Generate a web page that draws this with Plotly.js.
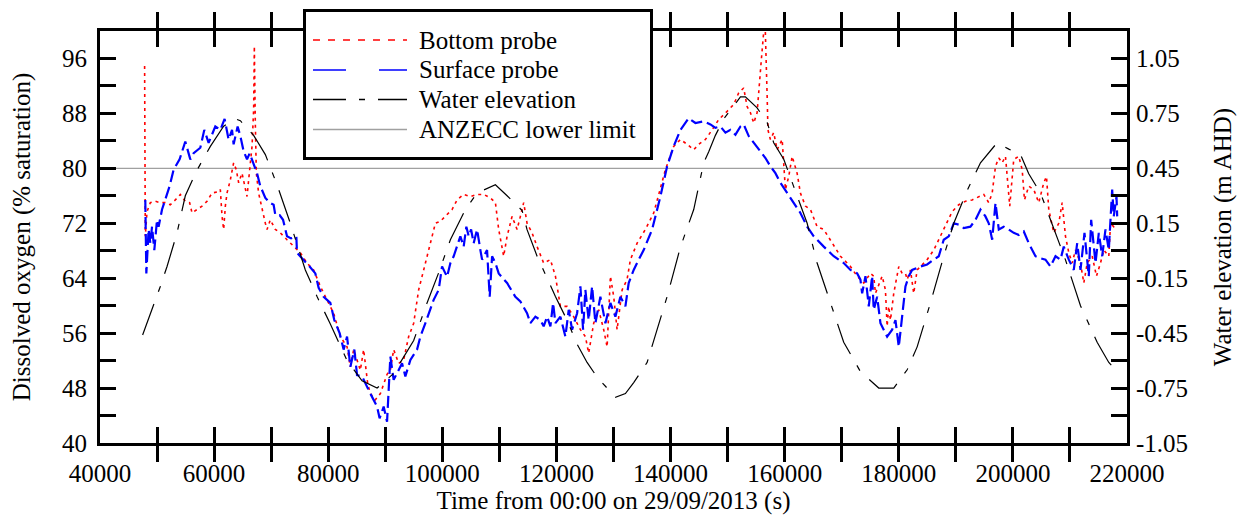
<!DOCTYPE html>
<html><head><meta charset="utf-8">
<script src="https://cdn.plot.ly/plotly-3.0.1.min.js"></script>
<style>html,body{margin:0;padding:0;background:#fff;} #chart{width:1243px;height:517px;}</style>
</head><body><div id="chart"></div>
<script>
// ---------------- data ----------------
const elevTime = [47470, 49400, 50570, 51750, 53500, 54950, 57000, 59340, 61670, 63720,
  64600, 66930, 68980, 71030, 73360, 75990, 78040, 80370, 83300, 85930,
  88560, 91470, 94980, 97320, 99360, 101410, 104040, 106090, 109300, 111350,
  113980, 114850, 116610, 119820, 121870, 123620, 125370, 127120, 130330, 132090,
  133540, 135890, 137640, 139400, 141730, 144060, 145810, 146690, 147860, 149320,
  152250, 153120, 155170, 156930, 158080, 159840, 161590, 163940, 165690, 168020,
  170350, 173280, 176490, 179120, 181470, 183220, 185550, 187880, 189640, 191990,
  194320, 197240, 199280, 201330, 202780, 204840, 206590, 209220, 211850, 214770,
  216810, 218280];
const elevLevel = [-0.46, -0.30, -0.195, -0.086, 0.097, 0.30, 0.44, 0.57, 0.68, 0.72,
  0.71, 0.63, 0.525, 0.36, 0.15, -0.105, -0.25, -0.40, -0.60, -0.71,
  -0.75, -0.67, -0.49, -0.285, -0.12, 0.06, 0.225, 0.315, 0.36, 0.30,
  0.22, 0.115, -0.03, -0.25, -0.38, -0.51, -0.61, -0.69, -0.80, -0.78,
  -0.72, -0.61, -0.43, -0.25, 0.02, 0.225, 0.48, 0.54, 0.63, 0.72,
  0.84, 0.84, 0.78, 0.70, 0.59, 0.50, 0.35, 0.15, -0.067, -0.285,
  -0.50, -0.66, -0.75, -0.75, -0.65, -0.525, -0.285, -0.03, 0.15, 0.33,
  0.48, 0.59, 0.555, 0.525, 0.42, 0.315, 0.17, -0.05, -0.30, -0.50,
  -0.61, -0.66];

const surfaceTime = [47940, 48120, 48520, 48820, 49120, 49520, 49990, 50270, 50870, 51450,
  52200, 52900, 53950, 54950, 55830, 56410, 57580, 58280, 59040, 60210,
  61090, 61840, 62540, 63140, 63420, 64120, 64600, 65170, 65770, 66230,
  66930, 67520, 68100, 68980, 69730, 70430, 70730, 71480, 72080, 72780,
  73480, 74410, 74530, 75690, 76740, 77740, 78320, 79200, 80370, 81070,
  82000, 82700, 83300, 83880, 84580, 85050, 85930, 87380, 87960, 88560,
  89010, 89720, 90310, 90590, 90890, 91470, 92350, 92940, 93520, 94400,
  95570, 96150, 97030, 97900, 98480, 99360, 99950, 100830, 101410, 101990,
  102580, 103160, 103740, 104210, 104620, 105040, 105490, 106090, 106670, 106970,
  107840, 108300, 108720, 109300, 109880, 111350, 112800, 113680, 114850, 115430,
  116310, 117190, 117760, 118360, 118940, 119410, 119820, 120690, 121570, 122150,
  122740, 123620, 124200, 124670, 125070, 125650, 126250, 126830, 127700, 128580,
  129460, 130330, 131210, 132090, 132660, 133540, 134420, 135290, 136770, 138220,
  139400, 140550, 141730, 143180, 144360, 145810, 146990, 147860, 148740, 149620,
  150490, 151370, 152250, 152820, 153700, 154580, 155450, 156630, 157500, 158380,
  159260, 160430, 161590, 162760, 163940, 165090, 166850, 168600, 170350, 171530,
  172700, 173280, 173580, 174160, 174740, 175330, 175610, 176210, 176790, 177960,
  178840, 179420, 180000, 180590, 180820, 181170, 181750, 182340, 183800, 184970,
  186130, 187010, 187880, 188760, 189640, 190510, 191390, 192560, 193440, 194320,
  195190, 195770, 196370, 196950, 197530, 198400, 199280, 200150, 201030, 201910,
  202780, 203960, 204840, 205710, 206590, 207470, 208340, 208920, 209800, 210670,
  211270, 211850, 212550, 213300, 213720, 214480, 215060, 215650, 216230, 216810,
  217400, 217680, 218160, 218280];
const surfaceDO = [75.4, 64.7, 71.1, 69.1, 71.5, 68.1, 72.5, 71.5, 74.0, 75.4,
  77.4, 79.8, 81.3, 83.9, 81.3, 82.2, 83.0, 85.6, 83.7, 86.1,
  85.6, 87.2, 84.2, 85.6, 83.5, 86.1, 84.7, 82.5, 81.3, 82.2,
  80.5, 79.3, 77.4, 75.7, 75.0, 74.7, 73.2, 73.2, 72.5, 70.1,
  69.8, 70.1, 67.7, 66.7, 65.7, 64.7, 62.6, 61.3, 60.4, 57.9,
  56.0, 53.6, 55.5, 51.1, 53.6, 49.9, 49.7, 47.2, 46.3, 45.3,
  43.6, 45.3, 43.1, 48.7, 52.6, 49.2, 50.6, 51.6, 49.7, 52.1,
  53.6, 55.5, 57.45, 59.4, 60.85, 62.3, 65.7, 64.2, 66.2, 67.2,
  68.6, 70.1, 68.6, 71.5, 70.1, 71.1, 69.1, 71.1, 68.1, 66.7,
  68.1, 61.3, 67.2, 66.2, 64.7, 63.3, 61.3, 60.6, 58.9, 57.45,
  58.4, 57.9, 57.0, 58.4, 57.0, 60.4, 57.45, 58.4, 55.5, 59.4,
  56.5, 58.9, 62.8, 56.5, 62.3, 57.9, 62.8, 57.45, 61.3, 57.45,
  60.4, 58.4, 61.3, 59.9, 63.3, 65.2, 66.7, 68.1, 71.1, 75.9,
  80.3, 83.2, 85.6, 87.3, 86.6, 86.85, 86.4, 85.9, 86.1, 85.2,
  85.6, 84.9, 86.1, 86.4, 84.7, 83.7, 82.7, 81.5, 80.3, 79.3,
  77.9, 76.4, 74.9, 73.5, 71.5, 70.1, 68.6, 67.2, 66.2, 65.2,
  64.7, 63.8, 61.8, 64.3, 59.9, 64.3, 59.4, 61.3, 57.45, 55.5,
  56.5, 57.9, 54.0, 58.4, 60.4, 62.8, 64.3, 65.2, 65.7, 66.0,
  66.7, 67.2, 69.6, 70.1, 72.0, 71.8, 71.3, 71.5, 72.5, 74.0,
  73.0, 72.0, 69.6, 74.95, 71.1, 71.5, 71.1, 70.6, 70.3, 70.8,
  69.1, 67.2, 66.9, 66.7, 65.7, 67.2, 66.7, 68.6, 66.7, 65.2,
  69.1, 65.2, 70.6, 64.3, 72.5, 66.2, 70.6, 67.2, 71.1, 68.1,
  76.9, 73.0, 75.9, 73.0];

const bottomTime = [47820, 47940, 48240, 48820, 49700, 50570, 51450, 52320, 53200, 54080,
  54950, 55710, 56130, 57000, 57880, 58760, 59630, 60790, 61090, 61390,
  61670, 61970, 62260, 62840, 63420, 63890, 64300, 64890, 65470, 65770,
  66230, 66650, 66930, 67050, 67220, 67400, 67800, 68400, 68980, 69280,
  69850, 70730, 71610, 72780, 73940, 75110, 76290, 77440, 78620, 79790,
  80950, 82130, 83300, 83880, 84460, 85630, 86210, 86910, 87380, 88260,
  89140, 90310, 90890, 91470, 92350, 93220, 94100, 94980, 95850, 96730,
  97900, 98780, 99660, 100830, 101710, 102580, 103740, 104910, 106090, 107250,
  108420, 109300, 109880, 110750, 111350, 112220, 113100, 113680, 114260, 114850,
  115730, 116610, 117760, 118940, 119820, 120690, 121870, 123020, 124200, 125070,
  125650, 126530, 127410, 128280, 128880, 129460, 130040, 130630, 131510, 132380,
  132960, 134140, 135590, 137050, 138220, 139100, 140550, 141730, 142900, 144060,
  144940, 146110, 147280, 148440, 149910, 151070, 151950, 152820, 153420, 154000,
  154580, 155170, 155870, 156330, 156540, 156930, 157070, 157500, 158080, 158680,
  159560, 160130, 160710, 161310, 162180, 162760, 163640, 164520, 165690, 166850,
  168020, 169780, 171530, 172700, 173860, 175030, 175610, 175910, 177090, 177660,
  177960, 178240, 178540, 179120, 180000, 180590, 181170, 181470, 182050, 182620,
  183220, 184100, 184970, 186130, 187310, 188480, 189360, 190510, 191690, 192860,
  194020, 194900, 195770, 196370, 196950, 197530, 198120, 198700, 199100, 199450,
  200150, 201030, 201630, 202030, 202780, 203660, 204540, 205410, 205890, 206290,
  207170, 208040, 208640, 209220, 209800, 210390, 210970, 211850, 212430, 213020,
  213900, 214650, 215350, 215930, 216810, 217110, 217680, 218160];
const bottomDO = [94.9, 70.1, 73.7, 75.0, 75.2, 75.0, 75.0, 74.7, 75.4, 76.2,
  75.2, 75.0, 73.5, 74.0, 74.5, 75.2, 76.4, 76.6, 76.9, 73.0,
  71.1, 74.5, 76.4, 78.3, 80.8, 79.8, 77.9, 79.3, 76.9, 75.9,
  79.8, 83.2, 88.6, 97.8, 86.6, 79.3, 76.4, 74.0, 72.0, 71.1,
  72.5, 71.1, 70.6, 69.6, 68.6, 67.7, 66.2, 65.2, 62.8, 60.85,
  58.9, 55.5, 54.0, 51.1, 53.6, 50.6, 53.6, 48.7, 47.2, 46.3,
  47.2, 50.0, 50.6, 53.6, 51.6, 52.1, 55.5, 57.45, 62.3, 65.2,
  69.1, 72.0, 72.3, 73.2, 74.0, 75.4, 76.2, 75.9, 76.2, 76.2,
  75.7, 75.0, 71.1, 67.2, 70.1, 73.0, 71.1, 73.0, 75.0, 72.0,
  70.6, 68.6, 66.2, 66.7, 64.3, 59.9, 59.9, 58.4, 56.5, 55.5,
  53.1, 57.45, 59.4, 56.5, 54.0, 64.3, 61.3, 56.5, 62.3, 63.8,
  66.7, 69.1, 71.1, 73.5, 76.9, 79.8, 83.2, 84.2, 83.5, 82.7,
  83.5, 84.2, 85.6, 87.1, 88.3, 89.3, 91.0, 91.7, 89.0, 88.1,
  86.6, 88.1, 95.4, 99.7, 102, 90.5, 85.6, 84.2, 85.2, 82.7,
  84.2, 76.9, 78.8, 81.75, 79.3, 76.4, 74.5, 74.0, 71.5, 71.1,
  69.6, 67.2, 65.7, 64.3, 63.3, 64.7, 64.3, 61.8, 64.3, 62.3,
  57.0, 59.9, 57.9, 61.8, 65.7, 64.7, 64.7, 63.8, 65.2, 61.8,
  65.2, 66.0, 66.7, 68.1, 70.1, 72.3, 73.7, 74.7, 75.2, 75.4,
  75.9, 76.2, 75.0, 76.4, 80.3, 81.5, 80.8, 81.75, 77.9, 74.5,
  81.3, 81.75, 79.8, 75.4, 77.4, 76.9, 75.0, 77.9, 78.8, 74.0,
  70.6, 72.0, 75.0, 70.1, 67.7, 66.2, 68.1, 66.2, 63.3, 66.2,
  67.2, 64.3, 66.2, 68.1, 67.2, 72.0, 71.5, 72.0];

const anzeccLimit = 80;
const timeRange = [40000, 220000];

const xTickVals = [40000, 50000, 60000, 70000, 80000, 90000, 100000, 110000, 120000, 130000,
  140000, 150000, 160000, 170000, 180000, 190000, 200000, 210000, 220000];
const xTickText = ['40000', '', '60000', '', '80000', '', '100000', '', '120000', '',
  '140000', '', '160000', '', '180000', '', '200000', '', '220000'];
const doTickVals = [40, 44, 48, 52, 56, 60, 64, 68, 72, 76, 80, 84, 88, 92, 96, 100];
const doTickText = ['40', '', '48', '', '56', '', '64', '', '72', '', '80', '', '88', '', '96', ''];
const elevTickVals = [-1.05, -0.9, -0.75, -0.6, -0.45, -0.3, -0.15, 0, 0.15, 0.3, 0.45, 0.6, 0.75, 0.9, 1.05, 1.2];
const elevTickText = ['-1.05', '', '-0.75', '', '-0.45', '', '-0.15', '', '0.15', '', '0.45', '', '0.75', '', '1.05', ''];

const seriesNames = ['Bottom probe', 'Surface probe', 'Water elevation', 'ANZECC lower limit'];

// ---------------- presentation ----------------
const FONT = 'Liberation Serif';
const W = 1243, H = 517;
const M = {l: 100, r: 116, t: 31, b: 74};
const pw = W - M.l - M.r, ph = H - M.t - M.b;
const fx = p => (p - M.l) / pw;
const fy = p => (H - M.b - p) / ph;

const traces = [
  {x: timeRange, y: [anzeccLimit, anzeccLimit], name: seriesNames[3], mode: 'lines',
   line: {color: '#a0a0a0', width: 1.3}, showlegend: false, hoverinfo: 'skip'},
  {x: bottomTime, y: bottomDO, name: seriesNames[0], mode: 'lines',
   line: {color: '#ff0000', width: 1.6, dash: '3px,4px'}, showlegend: false, hoverinfo: 'skip'},
  {x: surfaceTime, y: surfaceDO, name: seriesNames[1], mode: 'lines',
   line: {color: '#0000ff', width: 2.2, dash: '12px,5px'}, showlegend: false, hoverinfo: 'skip'},
  {x: elevTime, y: elevLevel, name: seriesNames[2], mode: 'lines', yaxis: 'y2',
   line: {color: '#000000', width: 1.2, dash: '33px,13px,6px,13px'}, showlegend: false, hoverinfo: 'skip'}
];

const tickFont = {family: FONT, size: 25, color: '#000'};
const titleFont = {family: FONT, size: 25, color: '#000'};
const axisCommon = {
  ticks: 'inside', ticklen: 16, tickwidth: 3, tickcolor: '#000',
  showline: true, linewidth: 3, linecolor: '#000',
  showgrid: false, zeroline: false, tickfont: tickFont, automargin: false,
  tickmode: 'array'
};

// legend drawn as a box over the top frame
const legendItems = [
  {y: 40, color: '#ff0000', dash: '7px,8px', width: 1.5},
  {y: 70, color: '#0000ff', dash: '33px,33px', width: 1.5},
  {y: 99.5, color: '#000000', dash: '33px,13px,6px,13px', width: 1.3},
  {y: 129.5, color: '#a0a0a0', dash: 'solid', width: 1.5}
];
const shapes = [{
  type: 'rect', xref: 'paper', yref: 'paper', layer: 'above',
  x0: fx(304.5), x1: fx(651.5), y0: fy(158.5), y1: fy(10.5),
  line: {color: '#000', width: 3}, fillcolor: '#ffffff'
}];
const annotations = [];
legendItems.forEach((it, i) => {
  shapes.push({type: 'line', xref: 'paper', yref: 'paper', layer: 'above',
    x0: fx(313), x1: fx(407), y0: fy(it.y), y1: fy(it.y),
    line: {color: it.color, width: it.width, dash: it.dash}});
  annotations.push({xref: 'paper', yref: 'paper', x: fx(418), y: fy(it.y),
    xanchor: 'left', yanchor: 'middle', showarrow: false, text: seriesNames[i],
    font: {family: FONT, size: 25, color: '#000'}, borderpad: 0});
});

const layout = {
  width: W, height: H, margin: M,
  paper_bgcolor: '#ffffff', plot_bgcolor: '#ffffff',
  showlegend: false,
  font: {family: FONT, size: 25, color: '#000'},
  xaxis: Object.assign({}, axisCommon, {
    range: timeRange, tickvals: xTickVals, ticktext: xTickText, mirror: 'allticks',
    ticklabelstandoff: 6,
    title: {text: 'Time from 00:00 on 29/09/2013 (s)', font: titleFont, standoff: 6}
  }),
  yaxis: Object.assign({}, axisCommon, {
    range: [40, 100], tickvals: doTickVals, ticktext: doTickText, mirror: true,
    ticklabelstandoff: 5,
    title: {text: 'Dissolved oxygen (% saturation)', font: titleFont, standoff: 25}
  }),
  yaxis2: Object.assign({}, axisCommon, {
    overlaying: 'y', side: 'right',
    range: [-1.05, 1.2], tickvals: elevTickVals, ticktext: elevTickText,
    ticklabelstandoff: 1,
    title: {text: 'Water elevation (m AHD)', font: titleFont, standoff: 27}
  }),
  shapes: shapes,
  annotations: annotations
};

Plotly.newPlot('chart', traces, layout, {staticPlot: true, displayModeBar: false});
</script></body></html>
